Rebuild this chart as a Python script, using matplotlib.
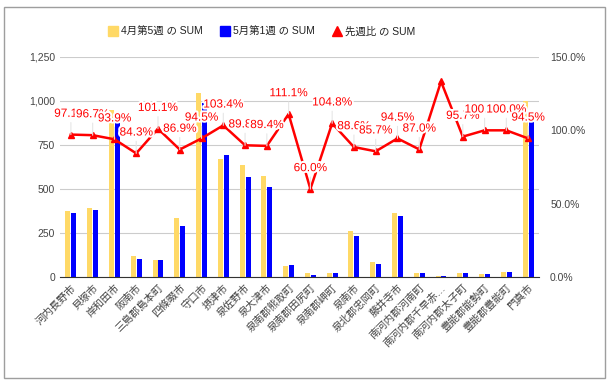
import matplotlib
matplotlib.use("Agg")
import matplotlib.pyplot as plt
import matplotlib.patheffects as pe
from matplotlib.patches import Rectangle
from matplotlib.lines import Line2D
from matplotlib.ticker import FuncFormatter
import numpy as np

plt.rcParams['font.family'] = ['Liberation Sans', 'Noto Sans CJK JP', 'DejaVu Sans']

cities = ["河内長野市", "貝塚市", "岸和田市", "阪南市", "三島郡島本町", "四條畷市",
          "守口市", "摂津市", "泉佐野市", "泉大津市", "泉南郡熊取町", "泉南郡田尻町",
          "泉南郡岬町", "泉南市", "泉北郡忠岡町", "藤井寺市", "南河内郡河南町",
          "南河内郡千早赤…", "南河内郡太子町", "豊能郡能勢町", "豊能郡豊能町", "門真市"]
apr_w5 = [375, 391, 950, 121, 94, 336, 1048, 670, 636, 574, 63, 20,
          21, 264, 84, 364, 23, 6, 23, 17, 29, 1000]
may_w1 = [364, 378, 892, 102, 95, 292, 990, 693, 571, 513, 70, 12,
          22, 234, 72, 344, 20, 8, 22, 17, 29, 945]
ratio = [97.1, 96.7, 93.9, 84.3, 101.1, 86.9, 94.5, 103.4, 89.8, 89.4, 111.1, 60.0,
         104.8, 88.6, 85.7, 94.5, 87.0, 133.3, 95.7, 100.0, 100.0, 94.5]
# label the chart hid because it collided
hidden = {17}

c_yel = "#ffd966"
c_blu = "#0000ff"
c_red = "#ff0000"

fig = plt.figure(figsize=(6.14, 3.85), dpi=100)
ax = fig.add_axes([60/614, 1 - 277/385, 479/614, 220/385])
ax2 = ax.twinx()

x = np.arange(len(cities))
w = 0.23
ax.bar(x - 0.135, apr_w5, w, color=c_yel, zorder=2)
ax.bar(x + 0.135, may_w1, w, color=c_blu, zorder=2)

ax.set_xlim(-0.5, len(cities) - 0.5)
ax.set_ylim(0, 1250)
ax.set_yticks(range(0, 1251, 250))
ax.yaxis.set_major_formatter(FuncFormatter(lambda v, p: f"{int(v):,}"))
ax.grid(axis="y", color="#cccccc", lw=0.8)
ax.set_axisbelow(True)
ax.set_xticks(x)
ax.set_xticklabels(cities, rotation=45, ha="right", rotation_mode="anchor",
                   fontsize=9, color="#444444")
ax.tick_params(length=0, labelsize=7.5, labelcolor="#444444")
ax.tick_params(axis="x", pad=4)

for a in (ax, ax2):
    for s in a.spines.values():
        s.set_visible(False)
ax.spines["bottom"].set_visible(True)
ax.spines["bottom"].set_color("#333333")

ax2.plot(x, ratio, color=c_red, lw=1.8, marker="^", ms=5, zorder=3)
ax2.set_ylim(0, 150)
ax2.set_yticks([0, 50, 100, 150])
ax2.yaxis.set_major_formatter(FuncFormatter(lambda v, p: f"{v:.1f}%"))
ax2.tick_params(length=0, labelsize=7.5, labelcolor="#444444", pad=8)

for i, r in enumerate(ratio):
    if i in hidden:
        continue
    ax2.annotate(f"{r:.1f}%", (x[i], r), xytext=(0, 15), textcoords="offset points",
                 ha="center", va="center", color=c_red, fontsize=8.5,
                 path_effects=[pe.withStroke(linewidth=3, foreground="white")],
                 arrowprops=dict(arrowstyle="-", color="#e6e6e6", lw=0.8,
                                 shrinkA=0, shrinkB=0), zorder=4)

handles = [
    Line2D([], [], marker="s", ls="none", color=c_yel, ms=7.5),
    Line2D([], [], marker="s", ls="none", color=c_blu, ms=7.5),
    Line2D([], [], marker="^", ls="none", color=c_red, ms=7),
]
fig.legend(handles, ["4月第5週 の SUM", "5月第1週 の SUM", "先週比 の SUM"],
           loc="center", bbox_to_anchor=(0.426, 1 - 32/385), ncol=3, frameon=False,
           fontsize=7.5, handletextpad=0.3, columnspacing=1.6, handlelength=1.0,
           labelcolor="#222222")

fig.patches.append(Rectangle((4/614, 1 - 378/385), 601/614, 371/385,
                             transform=fig.transFigure, fill=False,
                             edgecolor="#9e9e9e", lw=1))

fig.savefig("out.png", dpi=100)
